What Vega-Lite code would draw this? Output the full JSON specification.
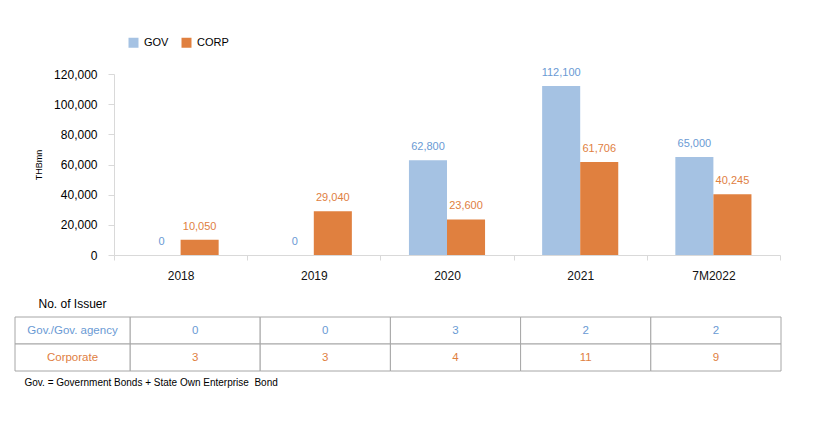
{
  "$schema": "https://vega.github.io/schema/vega-lite/v6.json",
  "width": 766,
  "height": 297,
  "autosize": {"type": "none"},
  "padding": {"left": 15, "top": 74, "right": 36, "bottom": 54},
  "background": "#ffffff",
  "config": {"font": "Liberation Sans", "view": {"stroke": null}},
  "title": {
    "text": "Gov. = Government Bonds + State Own Enterprise \u00a0Bond",
    "orient": "bottom",
    "anchor": "start",
    "fontSize": 10,
    "fontWeight": "normal",
    "color": "#000000",
    "offset": 6,
    "dx": 10
  },
  "datasets": {
    "bars": [
      {"year": "2018", "series": "GOV", "value": 0},
      {"year": "2018", "series": "CORP", "value": 10050},
      {"year": "2019", "series": "GOV", "value": 0},
      {"year": "2019", "series": "CORP", "value": 29040},
      {"year": "2020", "series": "GOV", "value": 62800},
      {"year": "2020", "series": "CORP", "value": 23600},
      {"year": "2021", "series": "GOV", "value": 112100},
      {"year": "2021", "series": "CORP", "value": 61706},
      {"year": "7M2022", "series": "GOV", "value": 65000},
      {"year": "7M2022", "series": "CORP", "value": 40245}
    ],
    "table": [
      {"year": "2018", "row": "GOV", "count": 0},
      {"year": "2018", "row": "CORP", "count": 3},
      {"year": "2019", "row": "GOV", "count": 0},
      {"year": "2019", "row": "CORP", "count": 3},
      {"year": "2020", "row": "GOV", "count": 3},
      {"year": "2020", "row": "CORP", "count": 4},
      {"year": "2021", "row": "GOV", "count": 2},
      {"year": "2021", "row": "CORP", "count": 11},
      {"year": "7M2022", "row": "GOV", "count": 2},
      {"year": "7M2022", "row": "CORP", "count": 9}
    ],
    "header": [
      {"col": "hdr", "row": "title", "label": "No. of Issuer"},
      {"col": "hdr", "row": "GOV", "label": "Gov./Gov. agency"},
      {"col": "hdr", "row": "CORP", "label": "Corporate"}
    ]
  },
  "layer": [
    {
      "data": {"name": "bars"},
      "encoding": {
        "x": {
          "field": "year",
          "type": "nominal",
          "sort": null,
          "scale": {"domain": ["2018", "2019", "2020", "2021", "7M2022"], "range": [99, 765], "paddingInner": 0, "paddingOuter": 0},
          "axis": {
            "title": null,
            "orient": "bottom",
            "offset": -116,
            "labelAngle": 0,
            "tickBand": "extent",
            "tickSize": 5,
            "tickColor": "#D9D9D9",
            "domainColor": "#D9D9D9",
            "labelPadding": 10,
            "labelFontSize": 12,
            "labelColor": "#111111"
          }
        },
        "xOffset": {
          "field": "series",
          "type": "nominal",
          "scale": {"domain": ["GOV", "CORP"], "paddingInner": 0, "paddingOuter": 0.75}
        },
        "y": {
          "field": "value",
          "type": "quantitative",
          "scale": {"domain": [0, 120000], "range": [181, 0], "nice": false, "zero": true},
          "axis": {
            "title": "THBmn",
            "titleFontSize": 9,
            "titleFontWeight": "normal",
            "titleColor": "#000000",
            "titlePadding": 10,
            "orient": "left",
            "offset": -99,
            "values": [0, 20000, 40000, 60000, 80000, 100000, 120000],
            "format": ",.0f",
            "grid": false,
            "tickSize": 6,
            "tickColor": "#D9D9D9",
            "domainColor": "#D9D9D9",
            "labelPadding": 11,
            "labelFontSize": 12,
            "labelColor": "#000000"
          }
        }
      },
      "layer": [
        {
          "mark": {"type": "bar"},
          "encoding": {
            "color": {
              "field": "series",
              "type": "nominal",
              "scale": {"domain": ["GOV", "CORP"], "range": ["#A5C2E3", "#E0803F"]},
              "legend": {
                "orient": "none",
                "legendX": 113,
                "legendY": -37,
                "direction": "horizontal",
                "title": null,
                "symbolType": "square",
                "symbolSize": 100,
                "symbolStrokeWidth": 0,
                "labelFontSize": 11,
                "labelOffset": 5,
                "columnPadding": 12,
                "padding": 0,
                "labelColor": "#000000"
              }
            }
          }
        },
        {
          "mark": {"type": "text", "dy": -8, "baseline": "bottom", "fontSize": 11},
          "encoding": {
            "text": {"field": "value", "type": "quantitative", "format": ",.0f"},
            "color": {"condition": {"test": "datum.series == 'GOV'", "value": "#6A9AD4"}, "value": "#E0803F"}
          }
        }
      ]
    },
    {
      "data": {"name": "table"},
      "encoding": {
        "x": {
          "field": "year",
          "type": "nominal",
          "sort": null,
          "scale": {"domain": ["2018", "2019", "2020", "2021", "7M2022"], "range": [115, 766], "paddingInner": 0, "paddingOuter": 0},
          "axis": null
        },
        "y": {
          "field": "row",
          "type": "nominal",
          "scale": {"domain": ["GOV", "CORP"], "range": [243, 297], "paddingInner": 0, "paddingOuter": 0},
          "axis": null
        }
      },
      "layer": [
        {"mark": {"type": "rect", "fill": "#ffffff", "stroke": "#A6A6A6", "strokeWidth": 1}},
        {
          "mark": {"type": "text", "fontSize": 11.5},
          "encoding": {
            "text": {"field": "count", "type": "quantitative"},
            "color": {"condition": {"test": "datum.row == 'GOV'", "value": "#6A9AD4"}, "value": "#E0803F"}
          }
        }
      ]
    },
    {
      "data": {"name": "header"},
      "encoding": {
        "x": {
          "field": "col",
          "type": "nominal",
          "scale": {"domain": ["hdr"], "range": [0, 115], "paddingInner": 0, "paddingOuter": 0},
          "axis": null
        },
        "y": {
          "field": "row",
          "type": "nominal",
          "sort": null,
          "scale": {"domain": ["title", "GOV", "CORP"], "range": [216, 297], "paddingInner": 0, "paddingOuter": 0},
          "axis": null
        }
      },
      "layer": [
        {
          "transform": [{"filter": "datum.row != 'title'"}],
          "mark": {"type": "rect", "fill": "#ffffff", "stroke": "#A6A6A6", "strokeWidth": 1}
        },
        {
          "mark": {"type": "text"},
          "encoding": {
            "text": {"field": "label", "type": "nominal"},
            "size": {"condition": {"test": "datum.row == 'title'", "value": 12}, "value": 11.5},
            "color": {
              "condition": [
                {"test": "datum.row == 'GOV'", "value": "#6A9AD4"},
                {"test": "datum.row == 'CORP'", "value": "#E0803F"}
              ],
              "value": "#000000"
            }
          }
        }
      ]
    }
  ],
  "resolve": {
    "scale": {"x": "independent", "y": "independent"},
    "axis": {"x": "independent", "y": "independent"}
  }
}
